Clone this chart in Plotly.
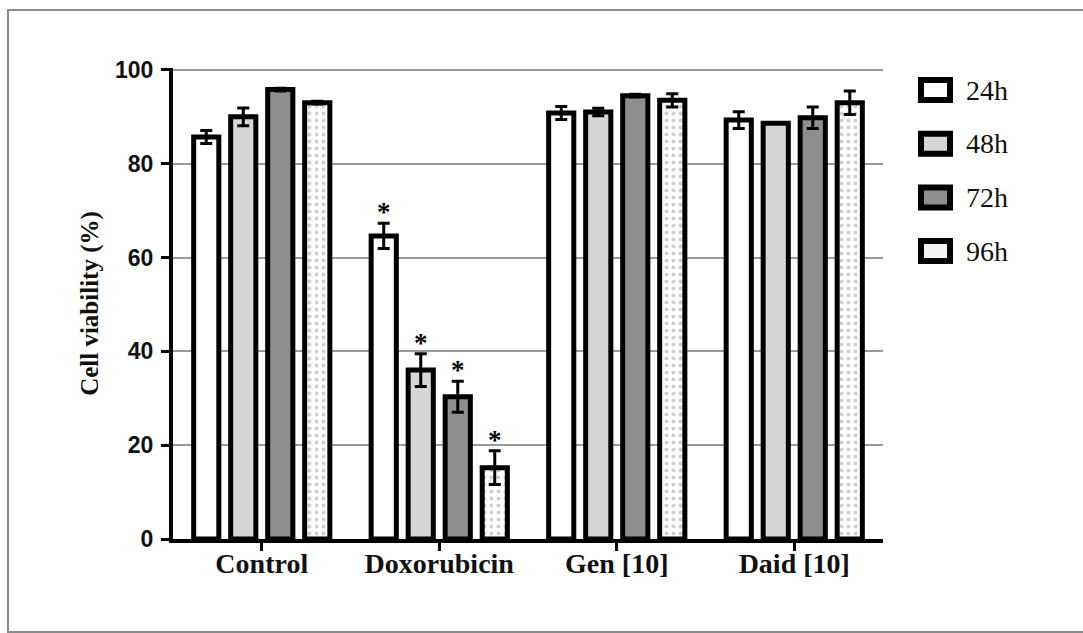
import plotly.graph_objects as go

# Treatments on the x axis and time points as bar series
treatments = ["Control", "Doxorubicin", "Gen [10]", "Daid [10]"]
timepoints = ["24h", "48h", "72h", "96h"]

# Mean cell viability (%) per time point, ordered as treatments
viability_24h = [85.7, 64.6, 90.8, 89.3]
viability_48h = [90.0, 36.0, 91.0, 88.6]
viability_72h = [95.8, 30.3, 94.5, 89.8]
viability_96h = [93.0, 15.2, 93.5, 93.0]

# Standard error for each bar
err_24h = [1.4, 2.7, 1.4, 1.8]
err_48h = [1.9, 3.5, 0.8, 0.0]
err_72h = [0.3, 3.3, 0.3, 2.3]
err_96h = [0.3, 3.6, 1.4, 2.5]

# Groups marked as significantly different
significant = ["Doxorubicin"]

values = [viability_24h, viability_48h, viability_72h, viability_96h]
errors = [err_24h, err_48h, err_72h, err_96h]
fills = ["#ffffff", "#d6d6d6", "#8e8e8e", "#ffffff"]

BAR_GAP = 0.166
GROUP_GAP = 0.32

fig = go.Figure()
for i, (name, vals, errs, fill) in enumerate(zip(timepoints, values, errors, fills)):
    marker = dict(color=fill, line=dict(color="black", width=5))
    if name == "96h":
        marker["pattern"] = dict(shape=".", fgcolor="#a0a0a0", bgcolor="#ffffff",
                                 size=7, solidity=0.25)
    fig.add_trace(go.Bar(
        name=name, x=treatments, y=vals, marker=marker,
        error_y=dict(type="data", array=errs, visible=True,
                     color="black", thickness=3, width=6),
        showlegend=False,
    ))

# Asterisks above bars of significant groups
slot = (1 - BAR_GAP) / len(timepoints)
for t in significant:
    ci = treatments.index(t)
    for k in range(len(timepoints)):
        xpos = ci + (k - (len(timepoints) - 1) / 2) * slot
        top = values[k][ci] + errors[k][ci]
        fig.add_annotation(x=xpos, y=top, text="*", showarrow=False,
                           xref="x", yref="y", yanchor="bottom", yshift=-6,
                           font=dict(family="Liberation Serif", size=27, color="#000000",
                                     weight="bold"))

# Legend drawn as outlined boxes with labels
plot_left, plot_right, plot_top, plot_bottom = 173, 883, 68, 539
pw, ph = plot_right - plot_left, plot_bottom - plot_top


def px_x(p):
    return (p - plot_left) / pw


def px_y(p):
    return (plot_bottom - p) / ph


shapes = []
legend_fill = ["#ffffff", "#d6d6d6", "#8e8e8e", "#f3f3f3"]
for k, name in enumerate(timepoints):
    cy = 90 + k * 53.7
    shapes.append(dict(type="rect", xref="paper", yref="paper",
                       x0=px_x(921), x1=px_x(950), y0=px_y(cy + 10), y1=px_y(cy - 10),
                       fillcolor=legend_fill[k], line=dict(color="black", width=6)))
    fig.add_annotation(x=px_x(964), y=px_y(cy), xref="paper", yref="paper",
                       text=name, showarrow=False, xanchor="left", yanchor="middle",
                       font=dict(family="Liberation Serif", size=28, color="#111111"))

# Outer frame
shapes.append(dict(type="rect", xref="paper", yref="paper",
                   x0=px_x(8), x1=px_x(1090), y0=px_y(632), y1=px_y(10),
                   line=dict(color="#8a8a8a", width=2), fillcolor="rgba(0,0,0,0)", layer="below"))

fig.update_layout(
    width=1083, height=633,
    margin=dict(l=plot_left, r=1083 - plot_right, t=plot_top, b=633 - plot_bottom),
    paper_bgcolor="white", plot_bgcolor="white",
    barmode="group", bargap=BAR_GAP, bargroupgap=GROUP_GAP,
    shapes=shapes,
    xaxis=dict(
        range=[-0.5, 3.5], showline=True, linecolor="black", linewidth=4,
        ticks="outside", ticklen=8, tickwidth=3, tickcolor="black",
        ticklabelstandoff=-12,
        tickfont=dict(family="Liberation Serif", size=28, color="#111111", weight="bold"),
        showgrid=False, zeroline=False,
    ),
    yaxis=dict(
        range=[0, 100.4], tickvals=[0, 20, 40, 60, 80, 100],
        showline=True, linecolor="black", linewidth=4,
        ticks="outside", ticklen=8, tickwidth=3, tickcolor="black",
        ticklabelstandoff=3,
        tickfont=dict(family="Liberation Sans", size=23, color="#111111", weight="bold"),
        showgrid=True, gridcolor="#9a9a9a", gridwidth=2, zeroline=False,
        title=dict(text="Cell viability (%)", standoff=10,
                   font=dict(family="Liberation Serif", size=25, color="#111111", weight="bold")),
    ),
)

fig.write_html("out.html")
